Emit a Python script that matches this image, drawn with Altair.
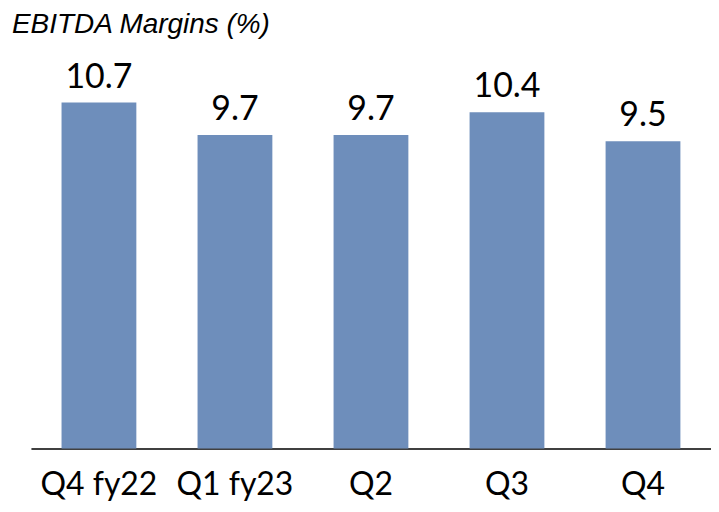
import altair as alt
import pandas as pd

categories = ["Q4 fy22", "Q1 fy23", "Q2", "Q3", "Q4"]
values = [10.7, 9.7, 9.7, 10.4, 9.5]
labels = ["10.7", "9.7", "9.7", "10.4", "9.5"]

df = pd.DataFrame({"cat": categories, "val": values, "lab": labels})

x = alt.X("cat:N", sort=categories, title=None,
          scale=alt.Scale(paddingInner=0.45, paddingOuter=0.225),
          axis=alt.Axis(labelAngle=0, ticks=False, domainColor="black", domainWidth=1.5,
                        labelFont="Lato", labelFontSize=32, labelColor="black",
                        labelPadding=21))
y = alt.Y("val:Q", scale=alt.Scale(domain=[0, 12]), axis=None)

bars = alt.Chart(df).mark_bar(color="#6E8EBB").encode(x=x, y=y)
text = alt.Chart(df).mark_text(baseline="bottom", dy=-8, font="Lato", fontSize=34,
                               color="black").encode(x=x, y=y, text="lab:N")

chart = (bars + text).properties(
    width=682, height=389,
    title=alt.TitleParams("EBITDA Margins (%)", anchor="start", dx=-19, offset=22,
                          font="Liberation Sans", fontSize=28, fontStyle="italic",
                          fontWeight="normal", color="black"),
    autosize=alt.AutoSizeParams(type="none"),
    padding={"left": 23, "top": 52, "right": 0, "bottom": 55},
).configure_view(stroke=None)

chart.save("out.html", embed_options={"renderer": "svg", "actions": False})
